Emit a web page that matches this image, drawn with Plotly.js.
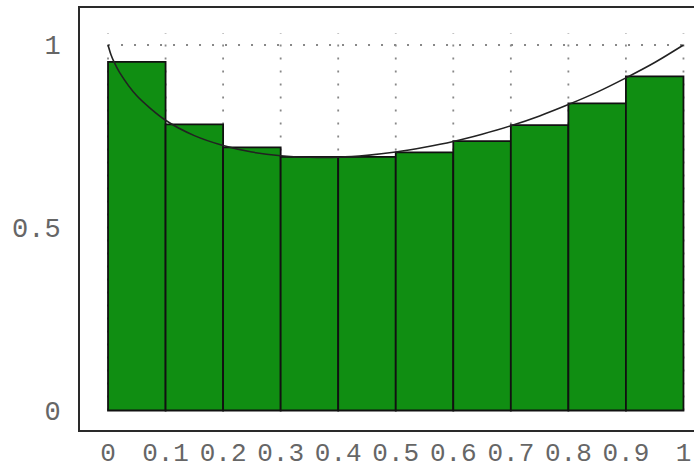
<!DOCTYPE html>
<html>
<head>
<meta charset="utf-8">
<script src="https://cdn.plot.ly/plotly-3.0.1.min.js"></script>
<style>
  html, body { margin: 0; padding: 0; background: #ffffff; }
  #chart { width: 694px; height: 468px; }
</style>
</head>
<body>
<div id="chart"></div>
<script>
// Histogram bins: left edges and heights
const binLefts = [0, 0.1, 0.2, 0.3, 0.4, 0.5, 0.6, 0.7, 0.8, 0.9];
const binHeights = [0.954, 0.783, 0.720, 0.694, 0.694, 0.706, 0.737, 0.781, 0.840, 0.914];
const binWidth = 0.1;

// Smooth reference curve sampled along x
const curveX = [0, 0.005, 0.01, 0.02, 0.05, 0.1, 0.15, 0.2, 0.25, 0.3, 0.35, 0.4, 0.45,
                0.5, 0.55, 0.6, 0.65, 0.7, 0.75, 0.8, 0.85, 0.9, 0.95, 1];
const curveY = [1.0, 0.974, 0.955, 0.925, 0.861, 0.794, 0.752, 0.725, 0.707, 0.697, 0.693,
                0.693, 0.698, 0.707, 0.720, 0.736, 0.756, 0.779, 0.806, 0.837, 0.871, 0.910,
                0.952, 1.0];

// Axis ticks
const xTickVals = [0, 0.1, 0.2, 0.3, 0.4, 0.5, 0.6, 0.7, 0.8, 0.9, 1];
const xTickText = ['0', '0.1', '0.2', '0.3', '0.4', '0.5', '0.6', '0.7', '0.8', '0.9', '1'];
const yTickVals = [0, 0.5, 1];
const yTickText = ['0', '0.5', '1'];

// Dotted grid: vertical lines at every x tick, one horizontal line at y = 1
const gridTop = 1.033;
const gridStyle = { color: '#888888', width: 1.8, dash: '2px,11px' };
const shapes = [];
xTickVals.forEach(v => {
  shapes.push({ type: 'line', layer: 'below', xref: 'x', yref: 'y',
                x0: v, x1: v, y0: 0, y1: gridTop, line: gridStyle });
});
shapes.push({ type: 'line', layer: 'below', xref: 'x', yref: 'y',
              x0: xTickVals[0], x1: xTickVals[xTickVals.length - 1], y0: 1, y1: 1,
              line: gridStyle });

const bars = {
  type: 'bar',
  x: binLefts,
  y: binHeights,
  width: binLefts.map(() => binWidth),
  offset: 0,
  marker: { color: '#108e12', line: { color: '#111111', width: 1.8 } },
  hoverinfo: 'skip'
};

const curve = {
  type: 'scatter',
  mode: 'lines',
  x: curveX,
  y: curveY,
  line: { color: '#222222', width: 1.6, shape: 'spline', smoothing: 0.8 },
  hoverinfo: 'skip'
};

const monoFamily = '"Liberation Mono", "Courier New", monospace';
const yTickFont = { family: monoFamily, size: 27, color: '#666666' };
const xTickFont = { family: monoFamily, size: 26, color: '#666666' };

const layout = {
  width: 694,
  height: 468,
  margin: { l: 80, r: 0, t: 8, b: 38, pad: 0 },
  paper_bgcolor: '#ffffff',
  plot_bgcolor: '#ffffff',
  showlegend: false,
  bargap: 0,
  shapes: shapes,
  xaxis: {
    range: [-0.0487, 1.0183],
    tickmode: 'array',
    tickvals: xTickVals,
    ticktext: xTickText,
    tickfont: xTickFont,
    ticks: '',
    ticklabelstandoff: -2,
    showgrid: false,
    zeroline: false,
    showline: true,
    mirror: true,
    linecolor: '#2a2a2a',
    linewidth: 2,
    fixedrange: true
  },
  yaxis: {
    range: [-0.0534, 1.1012],
    tickmode: 'array',
    tickvals: yTickVals,
    ticktext: yTickText,
    tickfont: yTickFont,
    ticks: '',
    ticklabelstandoff: 12,
    showgrid: false,
    zeroline: false,
    showline: true,
    linecolor: '#2a2a2a',
    linewidth: 2,
    fixedrange: true
  }
};

Plotly.newPlot('chart', [bars, curve], layout, { staticPlot: true, displayModeBar: false });
</script>
</body>
</html>
